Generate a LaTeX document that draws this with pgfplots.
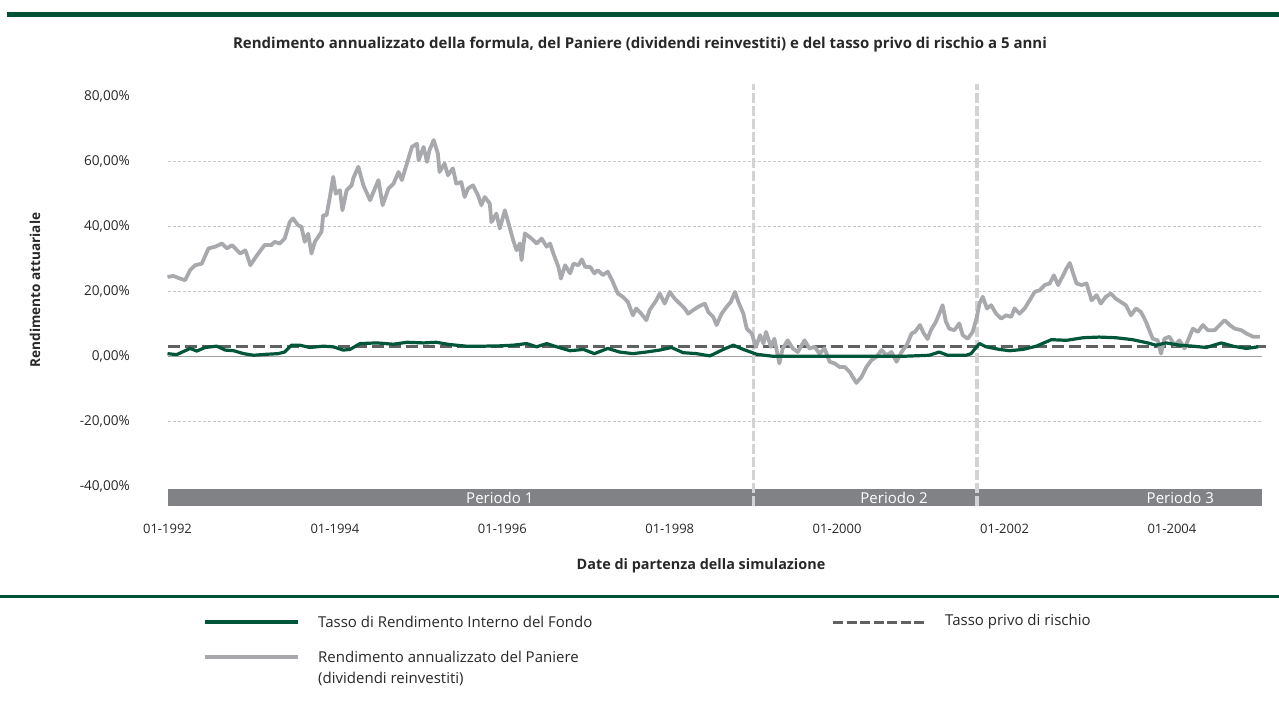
\documentclass[border=0pt]{standalone}
\usepackage{pgfplots}
\pgfplotsset{compat=1.18}
\usepackage{fontspec}
\setmainfont{Open Sans}
\definecolor{fgreen}{RGB}{0,86,56}
\definecolor{rulegreen}{RGB}{0,82,52}
\definecolor{pgray}{RGB}{167,169,172}
\definecolor{rfgray}{RGB}{96,97,99}
\definecolor{bargray}{RGB}{128,130,133}
\definecolor{vgray}{RGB}{209,211,212}
\definecolor{gridgray}{RGB}{200,200,200}
\definecolor{zerogray}{RGB}{160,160,160}
\definecolor{txt}{RGB}{40,40,40}
\begin{document}
\begin{tikzpicture}[x=1pt,y=1pt]
\path[use as bounding box] (0,0) rectangle (1279,707);
% rules
\draw[rulegreen,line width=5pt] (7,692.5) -- (1279,692.5);
\draw[rulegreen,line width=3pt] (0,111) -- (1279,111);
% title
\node[txt,font=\fontsize{15}{17}\selectfont\bfseries] at (640,662) {Rendimento annualizzato della formula, del Paniere (dividendi reinvestiti) e del tasso privo di rischio a 5 anni};
\node[txt,font=\fontsize{13.6}{16}\selectfont\bfseries,rotate=90] at (35,417) {Rendimento attuariale};
\node[txt,font=\fontsize{14.4}{16}\selectfont\bfseries] at (701,141) {Date di partenza della simulazione};
\begin{axis}[
  at={(167.5pt,200.6pt)}, anchor=south west,
  scale only axis, width=1094pt, height=422.5pt,
  xmin=1992, xmax=2005.07, ymin=-46, ymax=84,
  clip=false,
  axis line style={draw=none},
  major tick length=0pt,
  xtick={1992,1994,1996,1998,2000,2002,2004},
  xticklabels={01-1992,01-1994,01-1996,01-1998,01-2000,01-2002,01-2004},
  ytick={-40,-20,0,20,40,60,80},
  yticklabels={{-40,00\%},{-20,00\%},{0,00\%},{20,00\%},{40,00\%},{60,00\%},{80,00\%}},
  ticklabel style={font=\fontsize{13}{15}\selectfont, text=txt},
  yticklabel style={anchor=east, inner sep=0pt, xshift=-37.5pt, font=\fontsize{13.6}{15}\selectfont},
  xticklabel style={anchor=center, inner sep=0pt, yshift=-22pt},
]
% grid lines
\foreach \g in {-20,20,40,60}{
  \edef\tmp{\noexpand\draw[gridgray,line width=0.8pt,dash pattern=on 3pt off 2pt] (axis cs:1992,\g) -- (axis cs:2005.06,\g);}
  \tmp
}
\draw[zerogray,line width=1.2pt] (axis cs:1992,0) -- (axis cs:2005.07,0);
% period bar
\fill[bargray] (axis cs:1992,-40.5) rectangle (axis cs:2005.07,-46);
\node[white,font=\fontsize{15}{17}\selectfont] at (axis cs:1995.97,-43.3) {Periodo 1};
\node[white,font=\fontsize{15}{17}\selectfont] at (axis cs:2000.68,-43.3) {Periodo 2};
\node[white,font=\fontsize{15}{17}\selectfont] at (axis cs:2004.10,-43.3) {Periodo 3};
% period separators
\draw[vgray,line width=3.5pt,dash pattern=on 10pt off 3pt] (axis cs:1999.0,-46) -- (axis cs:1999.0,84);
\draw[vgray,line width=3.5pt,dash pattern=on 10pt off 3pt] (axis cs:2001.67,-46) -- (axis cs:2001.67,84);
% risk free
\addplot[rfgray,line width=3pt,dash pattern=on 12pt off 5pt] coordinates {(1992,3.3) (2005.12,3.3)};
% paniere
\addplot[pgray,line width=3.8pt,line join=round] table {
x y
1992.00 24.6
1992.07 24.9
1992.14 24.2
1992.21 23.6
1992.27 26.7
1992.33 28.2
1992.41 28.7
1992.49 33.4
1992.57 33.9
1992.65 34.9
1992.71 33.4
1992.77 34.4
1992.87 31.8
1992.93 32.8
1992.99 28.2
1993.07 31.3
1993.16 34.4
1993.24 34.4
1993.28 35.4
1993.34 34.9
1993.40 36.4
1993.46 41.5
1993.50 42.6
1993.56 40.5
1993.60 40.0
1993.64 35.4
1993.68 37.9
1993.72 31.8
1993.76 35.4
1993.84 38.5
1993.86 43.6
1993.90 43.6
1993.94 49.2
1993.98 55.4
1994.01 50.2
1994.06 51.3
1994.09 45.1
1994.14 51.3
1994.20 52.8
1994.22 55.0
1994.28 58.5
1994.34 52.8
1994.42 48.2
1994.52 54.4
1994.57 46.7
1994.64 51.8
1994.70 53.3
1994.76 56.9
1994.80 54.4
1994.86 59.5
1994.92 64.6
1994.98 65.6
1995.00 60.5
1995.06 64.6
1995.10 60.0
1995.13 63.6
1995.18 66.7
1995.23 62.6
1995.25 56.9
1995.31 59.5
1995.35 55.9
1995.41 58.0
1995.45 53.3
1995.51 53.8
1995.55 49.2
1995.59 51.8
1995.65 52.8
1995.71 49.7
1995.75 46.7
1995.79 49.2
1995.85 47.2
1995.87 41.5
1995.93 44.1
1995.97 39.5
1996.03 45.1
1996.07 41.5
1996.13 35.9
1996.17 32.8
1996.21 34.9
1996.23 29.8
1996.27 38.0
1996.35 36.4
1996.41 34.9
1996.47 36.4
1996.53 33.9
1996.57 34.9
1996.61 31.8
1996.67 27.7
1996.70 24.1
1996.75 28.2
1996.81 25.7
1996.85 28.7
1996.91 28.2
1996.95 30.0
1996.99 27.7
1997.05 27.7
1997.10 25.7
1997.14 26.7
1997.20 25.2
1997.26 26.2
1997.32 23.1
1997.38 19.5
1997.44 18.5
1997.50 16.9
1997.56 12.8
1997.60 14.9
1997.66 13.3
1997.72 11.3
1997.76 14.4
1997.84 17.4
1997.88 19.5
1997.94 16.4
1998.00 20.0
1998.06 17.9
1998.12 16.4
1998.18 14.9
1998.22 13.3
1998.28 14.4
1998.34 15.4
1998.42 16.4
1998.46 13.8
1998.52 12.3
1998.56 9.8
1998.62 13.3
1998.68 15.4
1998.73 16.9
1998.78 20.0
1998.82 16.9
1998.88 13.3
1998.92 8.7
1998.98 7.2
1999.03 3.1
1999.08 6.7
1999.12 4.1
1999.15 7.7
1999.21 3.1
1999.25 5.6
1999.31 -2.0
1999.35 2.6
1999.41 5.1
1999.47 2.6
1999.53 1.5
1999.61 5.1
1999.67 2.6
1999.73 3.1
1999.79 1.0
1999.85 2.6
1999.91 -1.5
1999.97 -2.0
2000.03 -3.1
2000.09 -3.1
2000.15 -4.6
2000.23 -8.0
2000.29 -6.2
2000.35 -3.1
2000.41 -1.0
2000.47 0.0
2000.53 2.1
2000.59 0.5
2000.65 1.5
2000.71 -1.5
2000.77 1.5
2000.83 3.6
2000.89 7.2
2000.93 7.7
2000.99 9.8
2001.03 7.5
2001.08 5.5
2001.12 8.2
2001.18 10.8
2001.22 13.3
2001.26 15.9
2001.30 10.8
2001.34 8.7
2001.40 8.2
2001.46 10.3
2001.50 6.7
2001.56 5.6
2001.62 7.7
2001.67 12.3
2001.70 16.4
2001.74 18.5
2001.79 14.9
2001.84 15.9
2001.90 13.3
2001.96 11.8
2002.02 12.8
2002.08 12.3
2002.12 14.9
2002.18 13.3
2002.24 14.9
2002.30 17.4
2002.36 20.0
2002.42 20.5
2002.48 22.1
2002.54 22.6
2002.59 25.1
2002.64 22.1
2002.70 25.1
2002.74 27.2
2002.78 28.9
2002.82 25.7
2002.86 22.6
2002.92 22.1
2002.98 22.6
2003.04 17.4
2003.10 19.0
2003.15 16.4
2003.21 18.5
2003.27 19.5
2003.33 17.9
2003.39 16.9
2003.45 15.9
2003.51 12.8
2003.57 14.9
2003.63 13.8
2003.69 10.8
2003.73 8.2
2003.77 5.6
2003.83 5.1
2003.87 1.0
2003.91 5.6
2003.97 6.2
2004.03 3.6
2004.09 5.1
2004.15 2.6
2004.21 6.2
2004.25 8.7
2004.31 7.7
2004.37 9.8
2004.43 8.2
2004.51 8.2
2004.57 9.8
2004.63 11.3
2004.69 9.8
2004.75 8.7
2004.83 8.2
2004.89 7.2
2004.97 6.2
2005.05 6.2
};
% fondo
\addplot[fgreen,line width=3.2pt,line join=round] table {
x y
1992.00 1.0
1992.11 0.7
1992.27 2.6
1992.35 1.8
1992.45 2.9
1992.59 3.3
1992.69 2.1
1992.79 1.9
1992.91 1.0
1993.03 0.5
1993.18 0.8
1993.32 1.0
1993.40 1.5
1993.48 3.6
1993.58 3.6
1993.70 2.9
1993.86 3.3
1993.98 3.1
1994.10 2.1
1994.18 2.3
1994.30 4.1
1994.50 4.3
1994.70 3.9
1994.86 4.5
1995.06 4.3
1995.21 4.5
1995.37 3.8
1995.57 3.3
1995.77 3.3
1995.97 3.4
1996.13 3.6
1996.29 4.1
1996.41 3.1
1996.53 4.1
1996.65 3.1
1996.81 1.9
1996.97 2.3
1997.10 1.0
1997.26 2.6
1997.40 1.5
1997.56 1.0
1997.72 1.5
1997.88 2.1
1998.02 2.9
1998.16 1.3
1998.32 1.0
1998.48 0.3
1998.64 2.3
1998.76 3.6
1998.88 2.3
1999.04 0.8
1999.23 0.2
1999.60 0.2
2000.00 0.2
2000.40 0.2
2000.80 0.2
2001.10 0.5
2001.22 1.5
2001.32 0.5
2001.54 0.5
2001.60 1.0
2001.70 4.1
2001.78 3.1
2001.94 2.3
2002.06 1.9
2002.22 2.3
2002.38 3.3
2002.56 5.3
2002.74 5.1
2002.94 5.9
2003.13 6.1
2003.33 5.9
2003.53 5.3
2003.71 4.3
2003.81 3.6
2003.93 4.3
2004.09 3.6
2004.25 3.3
2004.41 2.9
2004.59 4.3
2004.73 3.3
2004.89 2.6
2005.03 3.1
};
\end{axis}
% legend
\draw[fgreen,line width=3.5pt] (205,85) -- (298,85);
\node[txt,anchor=west,inner sep=0pt,font=\fontsize{15}{17}\selectfont] at (318,85) {Tasso di Rendimento Interno del Fondo};
\draw[rfgray,line width=3pt,dash pattern=on 10pt off 3.5pt] (833,85) -- (926,85);
\node[txt,anchor=west,inner sep=0pt,font=\fontsize{15}{17}\selectfont] at (945,85) {Tasso privo di rischio};
\draw[pgray,line width=3.5pt] (205,50) -- (298,50);
\node[txt,anchor=west,inner sep=0pt,font=\fontsize{15}{17}\selectfont] at (318,50) {Rendimento annualizzato del Paniere};
\node[txt,anchor=west,inner sep=0pt,font=\fontsize{15}{17}\selectfont] at (318,28) {(dividendi reinvestiti)};
\end{tikzpicture}
\end{document}
